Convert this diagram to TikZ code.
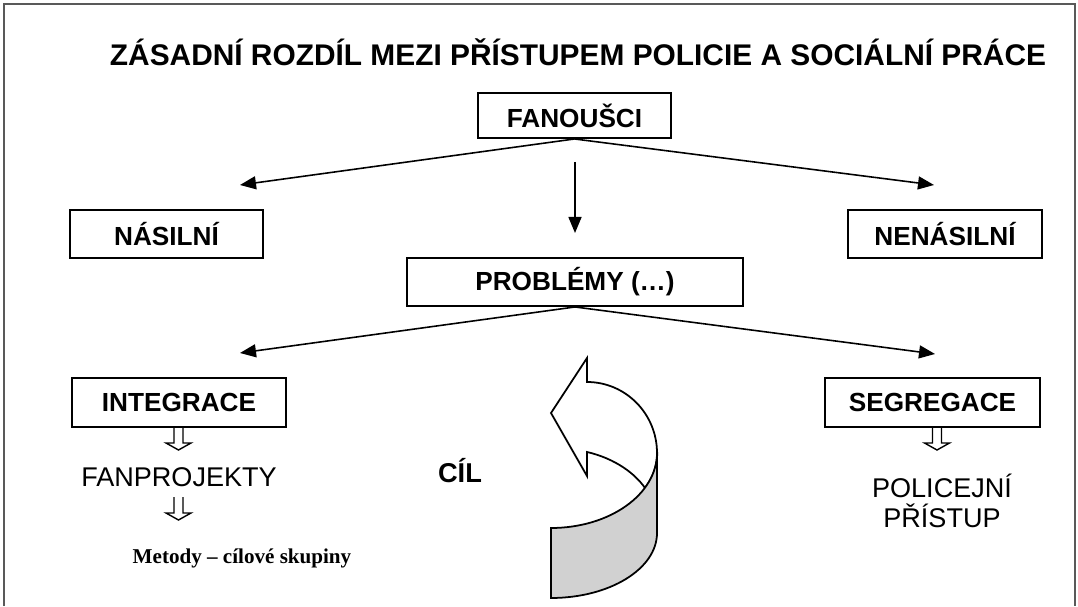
\documentclass[tikz,border=0pt]{standalone}
\usepackage{fontspec}
\setmainfont{Liberation Sans}
\newfontfamily\timesfont{Liberation Serif}
\usetikzlibrary{arrows.meta}

\begin{document}
\begin{tikzpicture}[
  box/.style={draw,line width=1.1pt,inner sep=0pt,minimum height=0.96cm,
    font=\fontsize{14.9}{18}\selectfont\bfseries},
  link/.style={line width=0.9pt,-{Triangle[length=0.32cm,width=0.26cm]}},
  plain/.style={font=\fontsize{15.4}{17}\selectfont},
  hollowdown/.pic={
    \draw[line width=0.8pt] (-0.09,0) -- (-0.09,-0.32) -- (-0.25,-0.32)
      -- (0,-0.46) -- (0.25,-0.32) -- (0.09,-0.32) -- (0.09,0);}
]
  \useasboundingbox (0,0) rectangle (21.56,12.12);
  % frame
  \draw[line width=1.3pt,black!65] (0.08,0) -- (0.08,12.04) -- (21.5,12.04) -- (21.5,0);

  \node[font=\fontsize{17}{20}\selectfont\bfseries] (title) at (11.56,11.08)
    {ZÁSADNÍ ROZDÍL MEZI PŘÍSTUPEM POLICIE A SOCIÁLNÍ PRÁCE};

  \node[box,minimum width=3.86cm,minimum height=0.9cm] (fan) at (11.49,9.81) {FANOUŠCI};
  \node[box,minimum width=3.86cm] (nasil) at (3.33,7.44) {NÁSILNÍ};
  \node[box,minimum width=3.88cm] (nenasil) at (18.9,7.44) {NENÁSILNÍ};
  \node[box,minimum width=6.72cm] (probl) at (11.5,6.48) {PROBLÉMY (…)};
  \node[box,minimum width=4.28cm,minimum height=0.98cm] (integ) at (3.58,4.07) {INTEGRACE};
  \node[box,minimum width=4.3cm,minimum height=0.98cm] (segreg) at (18.65,4.07) {SEGREGACE};

  % arrow ends
  \coordinate (nasiltip) at (4.8,8.42);
  \coordinate (nenasiltip) at (18.68,8.42);
  \coordinate (downtop) at (11.5,8.88);
  \coordinate (downtip) at (11.5,7.46);
  \coordinate (integtip) at (4.8,5.06);
  \coordinate (segregtip) at (18.7,5.04);

  \draw[link] (fan.south) -- (nasiltip);
  \draw[link] (fan.south) -- (nenasiltip);
  \draw[link] (downtop) -- (downtip);
  \draw[link] (probl.south) -- (integtip);
  \draw[link] (probl.south) -- (segregtip);

  % left column
  \pic at (3.57,3.58) {hollowdown};
  \node[plain] (fanproj) at (3.58,2.58) {FANPROJEKTY};
  \pic at (3.57,2.18) {hollowdown};
  \node[font=\timesfont\fontsize{12}{14}\selectfont\bfseries] (metody) at (4.84,0.96)
    {Metody – cílové skupiny};

  % right column
  \pic at (18.74,3.58) {hollowdown};
  \node[plain,align=center] (police) at (18.84,2.1) {POLICEJNÍ\\PŘÍSTUP};

  \node[font=\fontsize{15.5}{18}\selectfont\bfseries] (cil) at (9.2,2.7) {CÍL};

  % curved ribbon arrow
  \draw[line width=1pt,fill=white] (13.14,3.06) arc[start angle=0,end angle=90,x radius=1.4,y radius=1.42]
    -- (11.74,4.96) -- (11.02,3.86) -- (11.74,2.6) -- (11.74,3.08)
    .. controls (12.3,2.95) and (12.7,2.65) .. (12.9,2.36)
    arc[start angle=-27.8,end angle=0,x radius=2.12,y radius=1.5] -- cycle;
  \draw[line width=1pt,fill=black!18] (11.02,1.56) -- (11.02,0.16)
    arc[start angle=-90,end angle=0,x radius=2.12,y radius=1.3] -- (13.14,3.06)
    arc[start angle=0,end angle=-90,x radius=2.12,y radius=1.5] -- cycle;
\end{tikzpicture}
\end{document}
